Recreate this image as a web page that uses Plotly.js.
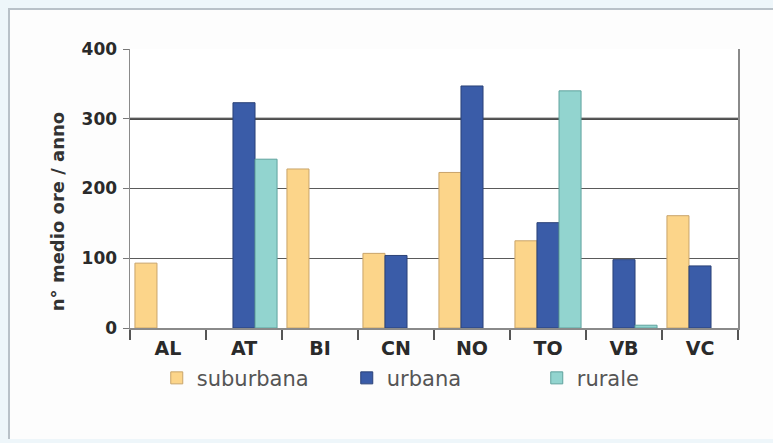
<!DOCTYPE html>
<html>
<head>
<meta charset="utf-8">
<script src="https://cdn.plot.ly/plotly-3.0.1.min.js"></script>
<style>
  html, body { margin:0; padding:0; width:773px; height:443px; overflow:hidden; background:#eef6fa; }
  #frame { position:absolute; left:8px; top:8px; width:800px; height:429px; background:#fdfdfd;
           border-left:2px solid #b9c1c8; border-top:2px solid #b9c1c8; }
  #chart { position:absolute; left:0; top:0; width:773px; height:443px; }
</style>
</head>
<body>
<div id="frame"></div>
<div id="chart"></div>
<script>
const categories = ["AL", "AT", "BI", "CN", "NO", "TO", "VB", "VC"];
const suburbana = [93, null, 228, 107, 223, 125, null, 161];
const urbana    = [null, 323, null, 104, 347, 151, 98, 89];
const rurale    = [null, 242, null, null, null, 340, 4, null];
const yTicks = [0, 100, 200, 300, 400];
const yTitle = "n° medio ore / anno";
const emphasisLine = 300;

const FAM = "DejaVu Sans";

const traces = [
  { name: "suburbana", y: suburbana, fill: "#fcd58a", line: "#c9a46a" },
  { name: "urbana",    y: urbana,    fill: "#3a5ca8", line: "#2b4278" },
  { name: "rurale",    y: rurale,    fill: "#92d4cf", line: "#5fa29d" }
].map(s => ({
  type: "bar",
  name: s.name,
  x: categories,
  y: s.y,
  marker: { color: s.fill, line: { color: s.line, width: 1 } },
  hoverinfo: "x+y+name"
}));

const layout = {
  width: 773, height: 443,
  margin: { l: 130, r: 35, t: 49, b: 115 },
  paper_bgcolor: "rgba(0,0,0,0)",
  plot_bgcolor: "#ffffff",
  barmode: "group",
  bargap: 0.13,
  bargroupgap: 0,
  font: { family: FAM, color: "#333" },
  xaxis: {
    type: "category",
    tickson: "boundaries",
    ticks: "outside", ticklen: 10, tickcolor: "#555", tickwidth: 1.5,
    ticklabelstandoff: 3,
    showline: true, linecolor: "#8a8a8a", linewidth: 1.5, mirror: false,
    tickfont: { size: 19, color: "#2a2a2a", family: FAM, weight: "bold" },
    showgrid: false
  },
  yaxis: {
    range: [0, 400],
    tickvals: yTicks,
    ticks: "outside", ticklen: 6, tickcolor: "#777",
    ticklabelstandoff: 2,
    showline: true, linecolor: "#8a8a8a", linewidth: 1.5, mirror: true,
    gridcolor: "#5a5a5a", gridwidth: 1,
    zeroline: false,
    tickfont: { size: 17, color: "#2a2a2a", family: FAM, weight: "bold" }
  },
  annotations: [{
    text: yTitle, textangle: -90,
    xref: "paper", yref: "paper",
    x: -0.118, y: 0.416, xanchor: "center", yanchor: "middle",
    showarrow: false,
    font: { size: 18, color: "#333", family: FAM, weight: "bold" }
  }],
  shapes: [{
    type: "line", xref: "paper", yref: "y", x0: 0, x1: 1,
    y0: emphasisLine, y1: emphasisLine,
    line: { color: "#111", width: 1.8 }, layer: "below"
  }],
  legend: {
    orientation: "h",
    x: 0.044, xanchor: "left",
    y: -0.18, yanchor: "middle",
    font: { size: 21, color: "#555", family: FAM },
    itemwidth: 30,
    entrywidth: 145,
    bgcolor: "rgba(0,0,0,0)"
  },
  showlegend: true
};

Plotly.newPlot("chart", traces, layout, { displayModeBar: false, staticPlot: true });
</script>
</body>
</html>
